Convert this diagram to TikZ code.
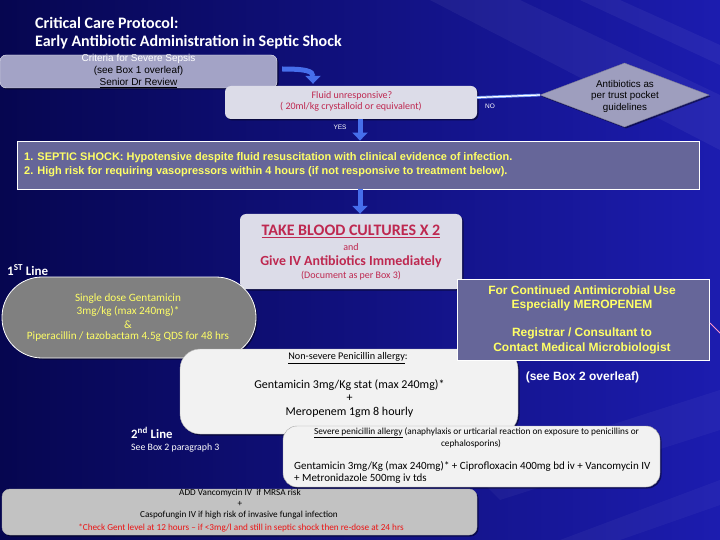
\documentclass[tikz,border=0pt]{standalone}
\usepackage{fontspec}
\setmainfont{Carlito}
\newfontfamily\arialf{Liberation Sans}
\usetikzlibrary{arrows.meta,shapes.geometric,shadows,calc}
\definecolor{bgA}{RGB}{6,6,80}
\definecolor{bgM}{RGB}{12,12,135}
\definecolor{bgB}{RGB}{28,28,175}
\definecolor{critfill}{RGB}{163,163,198}
\definecolor{lightfill}{RGB}{220,220,232}
\definecolor{diamfill}{RGB}{158,158,190}
\definecolor{slate}{RGB}{102,102,153}
\definecolor{stadfill}{RGB}{128,128,128}
\definecolor{whitish}{RGB}{242,242,242}
\definecolor{botfill}{RGB}{194,194,194}
\definecolor{crimson}{RGB}{190,40,80}
\definecolor{yel}{RGB}{255,255,102}
\definecolor{arrblue}{RGB}{70,110,235}
\definecolor{noblue}{RGB}{110,150,245}
\definecolor{pinkline}{RGB}{255,150,200}
\definecolor{redtxt}{RGB}{235,20,20}
\newcommand\fsz[1]{\fontsize{#1}{#1}\selectfont}
\begin{document}
\begin{tikzpicture}[x=1pt,y=-1pt,
  shd/.style={drop shadow={shadow xshift=1.5pt,shadow yshift=-1.5pt,opacity=0.45,fill=black}},
  boxr/.style={rounded corners=6pt,inner sep=0pt,shd},
  txt/.style={inner sep=0pt,anchor=center},
  txtl/.style={inner sep=0pt,anchor=west},
  barrow/.style={draw=arrblue,line width=5pt,-{Triangle[width=15pt,length=8pt]}},
  nolink/.style={draw=noblue,double=white,double distance=1.2pt,line width=0.8pt}
]
\useasboundingbox (0,0) rectangle (720,540);
\shade[left color=bgA,middle color=bgM,right color=bgB] (0,0) rectangle (720,540);
% faint streaks
\fill[white,opacity=0.05] (430,0) -- (520,0) -- (720,95) -- (720,150) -- cycle;
\fill[white,opacity=0.05] (580,0) -- (620,0) -- (720,45) -- (720,65) -- cycle;
\fill[white,opacity=0.04] (470,470) -- (720,390) -- (720,430) -- (500,500) -- cycle;
\fill[white,opacity=0.04] (560,540) -- (720,480) -- (720,505) -- (620,540) -- cycle;

% title
\node[txtl,text=white,font=\bfseries\fsz{16pt}] (title1) at (35,23) {Critical Care Protocol:};
\node[txtl,text=white,font=\bfseries\fsz{16pt}] (title2) at (35,42) {Early Antibiotic Administration in Septic Shock};

% criteria box
\node[boxr,fill=critfill,draw=white!80!critfill,minimum width=277pt,minimum height=33pt] (crit) at (138.5,71.5) {};
\node[txt,text=white,font=\arialf\fsz{10pt}] (critA) at (138.5,59) {Criteria for Severe Sepsis};
\node[txt,text=black,font=\arialf\fsz{10pt}] (critB) at (138.5,71) {(see Box 1 overleaf)};
\node[txt,text=black,font=\arialf\fsz{10pt}] (critC) at (138.5,83) {\underline{Senior Dr Review}};

% fluid box
\node[boxr,fill=lightfill,minimum width=252pt,minimum height=33pt] (fluid) at (351,102.5) {};
\node[txt,text=crimson,font=\fsz{10pt}] (fluidA) at (352,96) {Fluid unresponsive?};
\node[txt,text=crimson,font=\fsz{10pt}] (fluidB) at (351,107) {( 20ml/kg crystalloid or equivalent)};

% diamond
\node[diamond,fill=diamfill,draw=diamfill!80!black,minimum width=169pt,minimum height=64pt,inner sep=0pt,shd] (diam) at (624.5,95) {};
\node[txt,font=\arialf\fsz{9.8pt}] (diamA) at (625,84) {Antibiotics as};
\node[txt,font=\arialf\fsz{9.8pt}] (diamB) at (625,96) {per trust pocket};
\node[txt,font=\arialf\fsz{9.8pt}] (diamC) at (625,108) {guidelines};

% septic shock
\node[fill=slate,draw=white,line width=0.8pt,minimum width=682pt,minimum height=48pt,inner sep=0pt] (septic) at (358,165) {};
\node[txtl,text=yel,font=\arialf\bfseries\fsz{11pt}] (sepA) at (24,158) {1. SEPTIC SHOCK: Hypotensive despite fluid resuscitation with clinical evidence of infection.};
\node[txtl,text=yel,font=\arialf\bfseries\fsz{11pt}] (sepB) at (24,172) {2. High risk for requiring vasopressors within 4 hours (if not responsive to treatment below).};

% blood cultures
\node[boxr,fill=lightfill,minimum width=222pt,minimum height=75pt] (blood) at (351,251.5) {};
\node[txt,text=crimson,font=\bfseries\fsz{16pt}] (bloodA) at (351,231) {\underline{TAKE BLOOD CULTURES X 2}};
\node[txt,text=crimson,font=\fsz{10pt}] (bloodB) at (351,247) {and};
\node[txt,text=crimson,font=\bfseries\fsz{13.9pt}] (bloodC) at (351,262) {Give IV Antibiotics Immediately};
\node[txt,text=crimson,font=\fsz{10pt}] (bloodD) at (351,276) {(Document as per Box 3)};

% 1st line
\node[txtl,text=white,font=\bfseries\fsz{13pt}] (first) at (7,270) {1\textsuperscript{ST} Line};
\node[fill=stadfill,draw=white,line width=0.8pt,rounded corners=40pt,minimum width=254pt,minimum height=81pt,inner sep=0pt,shd] (stad) at (129,317.5) {};
\node[txt,text=yel,font=\fsz{11.2pt}] (stadA) at (128,299) {Single dose Gentamicin};
\node[txt,text=yel,font=\fsz{11.2pt}] (stadB) at (128,311) {3mg/kg (max 240mg)*};
\node[txt,text=yel,font=\fsz{11.2pt}] (stadC) at (128,325) {\&};
\node[txt,text=yel,font=\fsz{11.2pt}] (stadD) at (128,337) {Piperacillin / tazobactam 4.5g QDS for 48 hrs};

% non-severe box
\node[fill=whitish,draw=gray!60,rounded corners=20pt,minimum width=338pt,minimum height=85pt,inner sep=0pt,shd] (nonsev) at (349,391.5) {};
\node[txt,font=\fsz{10.2pt}] (nonA) at (348,358) {\underline{Non-severe Penicillin allergy}:};
\node[txt,font=\fsz{12pt}] (nonB) at (349.5,385) {Gentamicin 3mg/Kg stat (max 240mg)*};
\node[txt,font=\fsz{12pt}] (nonC) at (349.5,398) {+};
\node[txt,font=\fsz{12pt}] (nonD) at (349.5,412) {Meropenem 1gm 8 hourly};

% micro box
\node[fill=slate,draw=white,line width=0.8pt,minimum width=252pt,minimum height=81pt,inner sep=0pt] (micro) at (583,319.5) {};
\node[txt,text=yel,font=\arialf\bfseries\fsz{12pt}] (microA) at (582,290) {For Continued Antimicrobial Use};
\node[txt,text=yel,font=\arialf\bfseries\fsz{12pt}] (microB) at (582,305) {Especially MEROPENEM};
\node[txt,text=yel,font=\arialf\bfseries\fsz{12pt}] (microC) at (582,333) {Registrar / Consultant to};
\node[txt,text=yel,font=\arialf\bfseries\fsz{12pt}] (microD) at (582,348) {Contact Medical Microbiologist};
\node[txt,text=white,font=\arialf\bfseries\fsz{12pt}] (seebox) at (582.5,377) {(see Box 2 overleaf)};
\coordinate (pk) at (710,323);
\draw[pinkline,line width=0.8pt] (pk) -- ++(12,12);

% 2nd line
\node[txtl,text=white,font=\bfseries\fsz{12.8pt}] (second) at (131,433) {2\textsuperscript{nd} Line};
\node[txtl,text=white,font=\fsz{9.8pt}] (secondB) at (131,448) {See Box 2 paragraph 3};

% severe box
\node[fill=whitish,draw=gray!70,rounded corners=14pt,minimum width=377pt,minimum height=61pt,inner sep=0pt,shd] (sev) at (471.5,456.5) {};
\node[txt,font=\fsz{9.3pt}] (sevA) at (476.5,433) {\underline{Severe penicillin allergy} (anaphylaxis or urticarial reaction on exposure to penicillins or};
\node[txt,font=\fsz{9.3pt}] (sevB) at (471,444) {cephalosporins)};
\node[txtl,font=\fsz{11pt}] (sevC) at (294,466) {Gentamicin 3mg/Kg (max 240mg)* + Ciprofloxacin 400mg bd iv + Vancomycin IV};
\node[txtl,font=\fsz{11pt}] (sevD) at (294,479) {+ Metronidazole 500mg iv tds};

% bottom box
\node[fill=botfill,draw=gray!60,rounded corners=8pt,minimum width=475pt,minimum height=46pt,inner sep=0pt,shd] (bot) at (239.5,512) {};
\node[txt,font=\fsz{9.2pt}] (botA) at (240,493) {ADD Vancomycin IV\ \ if MRSA risk};
\node[txt,font=\fsz{9.2pt}] (botB) at (240,504) {+};
\node[txt,font=\fsz{9.2pt}] (botC) at (239,515) {Caspofungin IV if high risk of invasive fungal infection};
\node[txt,text=redtxt,font=\fsz{9.2pt}] (botD) at (241,528) {*Check Gent level at 12 hours -- if <3mg/l and still in septic shock then re-dose at 24 hrs};

% connectors
\draw[barrow] ([xshift=5pt,yshift=2.5pt]crit.east) .. controls +(23,0) and +(0,-13) .. ([xshift=-38pt,yshift=2pt]fluid.north);
\draw[nolink] ([yshift=5pt]fluid.east) -- (diam.west);
\node[txt,text=white,font=\arialf\fsz{6.5pt}] (nolab) at (490,106) {NO};
\draw[barrow] ([xshift=9pt]fluid.south) -- ([xshift=2pt]septic.north);
\node[txt,text=white,font=\arialf\fsz{6.5pt}] (yeslab) at (340,127) {YES};
\draw[barrow] ([xshift=2pt]septic.south) -- ([xshift=9pt]blood.north);
\end{tikzpicture}
\end{document}
